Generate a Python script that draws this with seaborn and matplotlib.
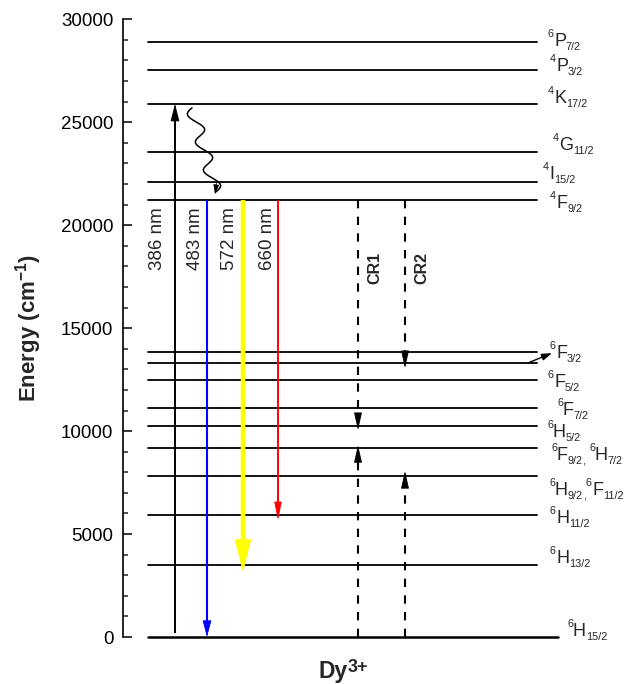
import re
import numpy as np
import pandas as pd
import matplotlib
matplotlib.use("Agg")
import matplotlib.pyplot as plt
from matplotlib.ticker import MultipleLocator
import seaborn as sns

# Dy3+ energy levels (cm-1)
level_energy = [28910, 27540, 25890, 23570, 22110, 21220, 13840, 13310,
                12480, 11120, 10250, 9180, 7820, 5920, 3500, 0]
# term symbols: multiplicity, letter, J  (one line has no label)
level_terms = ["6P7/2", "4P3/2", "4K17/2", "4G11/2", "4I15/2", "4F9/2", "",
               "6F3/2", "6F5/2", "6F7/2", "6H5/2", "6F9/2, 6H7/2",
               "6H9/2,6F11/2", "6H11/2", "6H13/2", "6H15/2"]

# radiative transitions: start / end energy (cm-1)
trans_names = ["386 nm", "483 nm", "572 nm", "660 nm"]
trans_start = [190, 21220, 21220, 21220]
trans_end = [25890, 0, 3160, 5680]

# cross relaxation channels
cr_names = ["CR1", "CR2"]
cr_down_start = [21220, 21220]
cr_down_end = [10050, 13060]
cr_up_start = [0, 0]
cr_up_end = [9320, 8060]

# ---- layout (x in pixel-like units of the axes) ----
lev_x0 = 148
lev_x1 = [537] * 15 + [558]
lab_x = [548, 550, 548, 553, 543, 550, None, 550, 548, 557, 547, 551, 549, 550, 550, 567]
lab_E = [28703, 27489, 25935, 23652, 22244, 20835, None, 13550, 12142, 10782,
         9713, 8596, 6897, 5537, 3594, 49]
trans_x = [175, 207, 243, 278]
trans_lab_x = [158, 195, 230, 267]
trans_col = ["black", "#0000ff", "#ffff00", "#ff0000"]
trans_lw = [1.4, 1.5, 3.2, 1.4]
trans_head = [(11, 2.8), (10.5, 2.8), (22, 5.6), (11.5, 2.4)]
cr_x = [358, 405]
cr_lab_x = [375, 422]

sns.set_style("ticks")
plt.rcParams["font.family"] = ["Liberation Sans", "DejaVu Sans"]
plt.rcParams["mathtext.fontset"] = "custom"
plt.rcParams["mathtext.rm"] = "Liberation Sans"
plt.rcParams["mathtext.it"] = "Liberation Sans:italic"
plt.rcParams["mathtext.bf"] = "Liberation Sans:bold"

fig = plt.figure(figsize=(6.24, 6.84), dpi=100)
ax_h = 617.7 / 684
ax = fig.add_axes([123 / 624, 47 / 684, 477 / 624, ax_h])
ax.set_xlim(123, 600)
ax.set_ylim(0, 30000)
E_per_pt = 30000 / (6.84 * 72 * ax_h)

# energy level lines
rows = []
for i, e in enumerate(level_energy):
    rows.append({"level": i, "x": lev_x0, "E": e})
    rows.append({"level": i, "x": lev_x1[i], "E": e})
df = pd.DataFrame(rows)
sns.lineplot(data=df, x="x", y="E", units="level", estimator=None, sort=False,
             color="black", lw=1.3, ax=ax)
ax.lines[-1].set_linewidth(1.8)


def put(s, x, e, size, dy, prev, weight="normal"):
    kw = dict(xytext=(0, dy), textcoords="offset points", fontsize=size,
              ha="left", va="baseline", fontweight=weight, annotation_clip=False)
    if prev is None:
        return ax.annotate(s, xy=(x, e), **kw)
    return ax.annotate(s, xy=(1, e), xycoords=(prev, "data"), **kw)


def term_label(x, e, text, main=13, small=7.8):
    prev = None
    for mult, letter, j, sep in re.findall(r"(\d)([A-Z])(\d+/\d)(,?\s?)", text):
        prev = put(mult, x, e, small, 6.3, prev)
        prev = put(letter, x, e, main, 0, prev)
        prev = put(j, x, e, small, -3, prev)
        if sep:
            prev = put(sep, x, e, small, -3, prev)


for i, t in enumerate(level_terms):
    if t:
        term_label(lab_x[i], lab_E[i], t)


def arrow(x, e0, e1, color, lw, hl, hw, dashed=False):
    sign = 1 if e1 > e0 else -1
    e_sh = e1 - sign * hl * E_per_pt * 0.6
    kw = dict(color=color, lw=lw, solid_capstyle="butt", clip_on=False)
    if dashed:
        kw["dashes"] = (6.0 / lw, 6.0 / lw)
        kw["dash_capstyle"] = "butt"
    ax.plot([x, x], [e0, e_sh], **kw)
    ax.annotate("", xy=(x, e1), xytext=(x, e1 - sign * hl * E_per_pt),
                arrowprops=dict(arrowstyle=f"-|>,head_length={hl},head_width={hw}",
                                mutation_scale=1, color=color, lw=0.6,
                                shrinkA=0, shrinkB=0), annotation_clip=False)


for i in range(len(trans_names)):
    arrow(trans_x[i], trans_start[i], trans_end[i], trans_col[i], trans_lw[i],
          *trans_head[i])
    ax.text(trans_lab_x[i], 19330, trans_names[i], rotation=90, fontsize=13.5,
            ha="center", va="center")

for i in range(len(cr_names)):
    arrow(cr_x[i], cr_down_start[i], cr_down_end[i], "black", 1.5, 11, 2.5, dashed=True)
    arrow(cr_x[i], cr_up_start[i], cr_up_end[i], "black", 1.5, 11, 2.5, dashed=True)
    ax.text(cr_lab_x[i], 17910, cr_names[i], rotation=90, fontsize=11.5,
            fontweight="bold", ha="center", va="center")

# non-radiative relaxation squiggle 4K17/2 -> 4F9/2
t = np.linspace(0, 1, 200)
sq_x = 192 + 24 * t - 6.5 * np.sin(2 * np.pi * 3 * t)
sq_E = 25700 + (21620 - 25700) * t
ax.plot(sq_x, sq_E, color="black", lw=1.1)
ax.annotate("", xy=(215, 21500), xytext=(216.5, 21500 + 8 * E_per_pt),
            arrowprops=dict(arrowstyle="-|>,head_length=6,head_width=1.8",
                            mutation_scale=1, color="black", lw=0.5,
                            shrinkA=0, shrinkB=0))

# pointer from 6F3/2 line to its label
ax.annotate("", xy=(552, 13790), xytext=(528, 13310),
            arrowprops=dict(arrowstyle="-|>,head_length=6,head_width=2",
                            mutation_scale=1, color="black", lw=1.0,
                            shrinkA=0, shrinkB=0))

for ln in ax.lines:
    ln.set_clip_on(False)

ax.yaxis.set_major_locator(MultipleLocator(5000))
ax.yaxis.set_minor_locator(MultipleLocator(1000))
ax.tick_params(axis="y", which="major", direction="in", length=6.5, width=1.1,
               pad=7, labelsize=13.5, colors="black")
ax.tick_params(axis="y", which="minor", direction="in", length=3.5, width=1.1)
ax.set_xticks([])
ax.set_xlabel("")
sns.despine(ax=ax, bottom=True)
ax.spines["left"].set_linewidth(1.2)
ax.spines["left"].set_color("black")

ax.set_ylabel(r"Energy (cm$^{\mathbf{-1}}$)", fontsize=16, fontweight="bold")
ax.yaxis.set_label_coords(-0.165, 0.5)

# Dy3+ under the levels
dy_txt = put("Dy", 318, -2000, 16.5, 0, None, weight="bold")
put("3+", 0, -2000, 13, 4.5, dy_txt, weight="bold")

fig.savefig("out.png", dpi=100)
